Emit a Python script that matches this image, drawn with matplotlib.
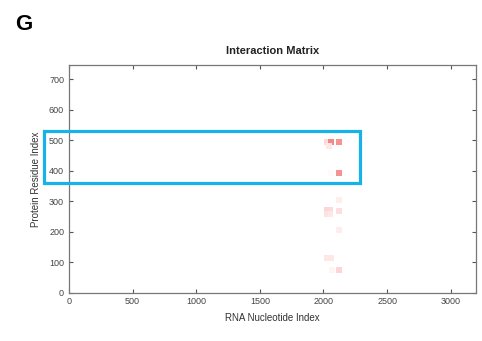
import matplotlib
matplotlib.use("Agg")
import matplotlib.pyplot as plt
from matplotlib.colors import LinearSegmentedColormap
from matplotlib.patches import Rectangle

# contact cells: RNA nucleotide index, protein residue index, strength (0-1)
rna_idx = [2030, 2060, 2045, 2120, 2120, 2060, 2120, 2030, 2055, 2030, 2055, 2120, 2120, 2030, 2060, 2070, 2120]
prot_idx = [495, 495, 480, 495, 393, 393, 305, 270, 270, 258, 258, 268, 205, 113, 113, 75, 75]
strength = [0.45, 0.85, 0.3, 0.8, 0.8, 0.08, 0.2, 0.5, 0.45, 0.35, 0.3, 0.4, 0.22, 0.3, 0.3, 0.12, 0.5]

# highlighted region (RNA range, protein range)
box_x = [-195, 2290]
box_y = [360, 530]

plt.rcParams['font.family'] = ['Liberation Sans', 'DejaVu Sans']

fig = plt.figure(figsize=(4.82, 3.41), dpi=100)
ax = fig.add_axes([0.143, 0.142, 0.845, 0.666])

cmap = LinearSegmentedColormap.from_list("pinkred", ["#ffffff", "#fcd6d6", "#f06666"])
ax.scatter(rna_idx, prot_idx, c=strength, cmap=cmap, vmin=0, vmax=1,
           marker='s', s=18, linewidths=0)

ax.add_patch(Rectangle((box_x[0], box_y[0]), box_x[1] - box_x[0], box_y[1] - box_y[0],
                       fill=False, edgecolor='#16b2e8', linewidth=2.3, clip_on=False, zorder=5))

ax.set_xlim(0, 3200)
ax.set_ylim(0, 745)
ax.set_xticks(range(0, 3001, 500))
ax.set_yticks(range(0, 701, 100))
ax.tick_params(direction='in', top=True, right=True, length=3, width=0.8,
               labelsize=6.5, colors='#555555', labelcolor='#444444')
for s in ax.spines.values():
    s.set_color('#777777')
    s.set_linewidth(0.9)

ax.set_title("Interaction Matrix", fontsize=8, fontweight='bold', color='#222222', pad=8)
ax.set_xlabel("RNA Nucleotide Index", fontsize=7, color='#333333', labelpad=5)
ax.set_ylabel("Protein Residue Index", fontsize=7, color='#333333', labelpad=6)

fig.text(0.032, 0.912, "G", fontsize=16, fontweight='bold', color='black')

fig.savefig("out.png", dpi=100)
